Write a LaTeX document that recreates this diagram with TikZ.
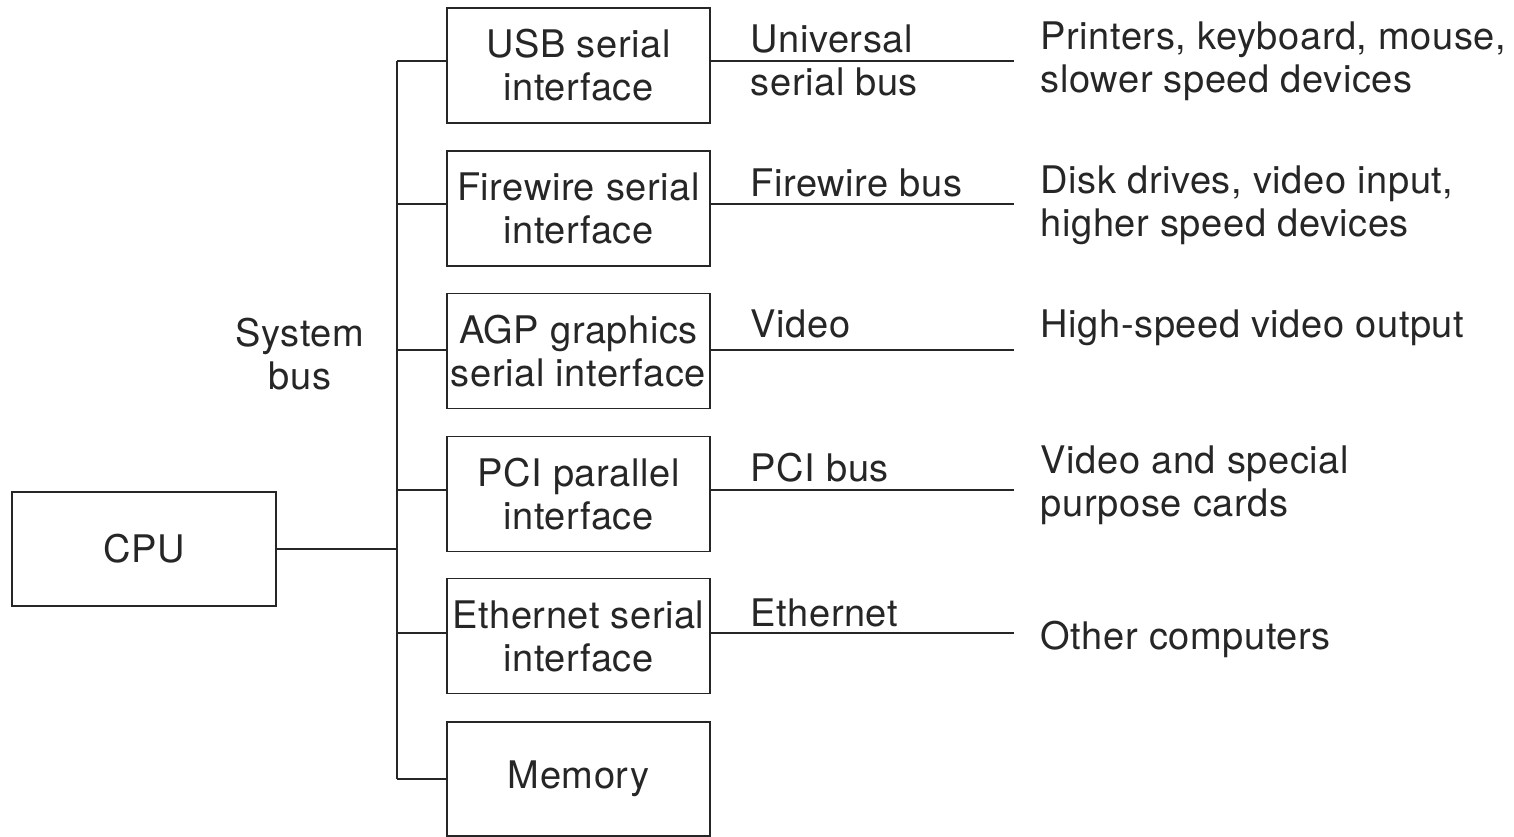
\documentclass[tikz,border=0pt]{standalone}
\usepackage{fontspec}
\setmainfont[LetterSpace=1.5]{TeX Gyre Heros}
\newcommand{\diafont}{\fontsize{38}{43}\selectfont}
\definecolor{ink}{gray}{0.15}
\begin{document}
\begin{tikzpicture}[x=1pt,y=-1pt,line width=1.6pt,draw=ink,text=ink,
  box/.style={draw, minimum width=263pt, minimum height=115pt, inner sep=0pt, align=center, font=\diafont},
  lbl/.style={anchor=north west, inner sep=0pt, align=left, font=\diafont}]
\useasboundingbox (0,0) rectangle (1514,837);
% CPU
\node[draw, minimum width=264pt, minimum height=114pt, inner sep=0pt, font=\diafont] (cpu) at (144,549) {CPU};
% interface boxes
\node[box] (usb) at (578.5,65.5) {USB serial\\interface};
\node[box] (fw) at (578.5,208.5) {Firewire serial\\interface};
\node[box] (agp) at (578.5,351) {AGP graphics\\serial interface};
\node[box] (pci) at (578.5,494) {PCI parallel\\interface};
\node[box] (eth) at (578.5,636) {Ethernet serial\\interface};
\node[box, minimum height=114pt] (mem) at (578.5,779) {Memory};
% bus coordinates
\coordinate (b1) at (397,61);
\coordinate (b2) at (397,204);
\coordinate (b3) at (397,350);
\coordinate (b4) at (397,490);
\coordinate (b5) at (397,633);
\coordinate (b6) at (397,779);
\coordinate (bc) at (397,549);
\draw (b1) -- (b6);
\draw (cpu.east |- bc) -- (bc);
\foreach \b/\n in {b1/usb,b2/fw,b3/agp,b4/pci,b5/eth,b6/mem}{
  \draw (\b) -- (\b -| \n.west);
}
% outgoing buses
\coordinate (e1) at (1014,61);
\coordinate (e2) at (1014,204);
\coordinate (e3) at (1014,350);
\coordinate (e4) at (1014,490);
\coordinate (e5) at (1014,633);
\foreach \e/\n in {e1/usb,e2/fw,e3/agp,e4/pci,e5/eth}{
  \draw (\e -| \n.east) -- (\e);
}
% labels
\node[font=\diafont, align=center, anchor=north, inner sep=0pt] (sys) at (300,317) {System\\bus};
\node[lbl] (l1) at (750,24) {Universal\\serial bus};
\node[lbl] (l2) at (750,168) {Firewire bus};
\node[lbl] (l3) at (750,309) {Video};
\node[lbl] (l4) at (750,452) {PCI bus};
\node[lbl] (l5) at (750,598) {Ethernet};
\node[lbl] (r1) at (1040,21) {Printers, keyboard, mouse,\\slower speed devices};
\node[lbl] (r2) at (1040,165) {Disk drives, video input,\\higher speed devices};
\node[lbl] (r3) at (1040,309) {High-speed video output};
\node[lbl] (r4) at (1040,445) {Video and special\\purpose cards};
\node[lbl] (r5) at (1040,620) {Other computers};
\end{tikzpicture}
\end{document}
